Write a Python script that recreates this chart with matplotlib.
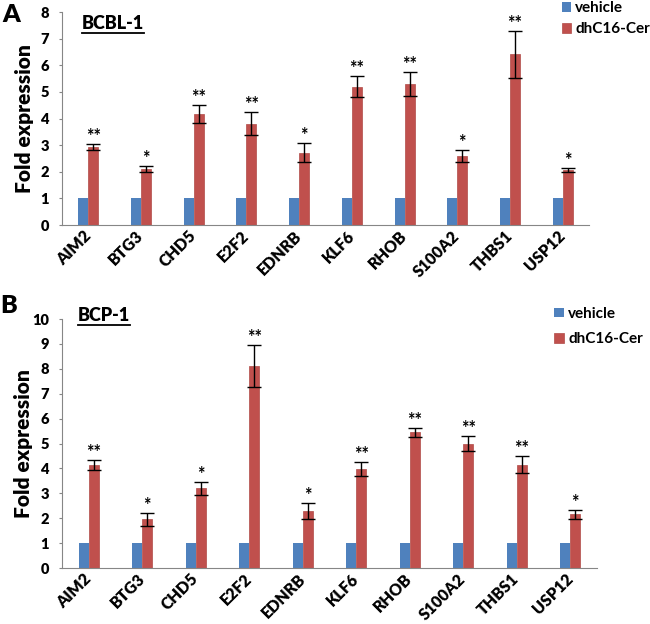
import matplotlib

matplotlib.use("Agg")
import matplotlib.pyplot as plt
import matplotlib.transforms as mtransforms
import numpy as np
from matplotlib.lines import Line2D

plt.rcParams["font.family"] = ["Lato", "DejaVu Sans"]
plt.rcParams["font.weight"] = "bold"

genes = ["AIM2", "BTG3", "CHD5", "E2F2", "EDNRB", "KLF6", "RHOB", "S100A2", "THBS1", "USP12"]

# panel A: BCBL-1
bcbl_vehicle = [1, 1, 1, 1, 1, 1, 1, 1, 1, 1]
bcbl_cer = [2.93, 2.10, 4.17, 3.80, 2.72, 5.20, 5.28, 2.60, 6.42, 2.07]
bcbl_err = [0.10, 0.12, 0.33, 0.43, 0.37, 0.38, 0.45, 0.22, 0.88, 0.08]
bcbl_sig = ["**", "*", "**", "**", "*", "**", "**", "*", "**", "*"]

# panel B: BCP-1
bcp_vehicle = [1, 1, 1, 1, 1, 1, 1, 1, 1, 1]
bcp_cer = [4.15, 1.95, 3.20, 8.12, 2.30, 3.97, 5.45, 5.00, 4.15, 2.15]
bcp_err = [0.20, 0.25, 0.27, 0.85, 0.32, 0.28, 0.18, 0.30, 0.35, 0.18]
bcp_sig = ["**", "*", "*", "**", "*", "**", "**", "**", "**", "*"]

BLUE = "#4F81BD"
RED = "#C0504D"
GREY = "#868686"
W = 0.19


def draw_panel(ax, vehicle, cer, err, sig, ymax, legend_anchor, spacing):
    x = np.arange(len(genes))
    ax.bar(x - W / 2, vehicle, W, color=BLUE, label="vehicle")
    ax.bar(x + W / 2, cer, W, color=RED, edgecolor="#B04A47", lw=0.5, label="dhC16-Cer",
           yerr=err, capsize=5, error_kw=dict(ecolor="black", elinewidth=1, capthick=1))
    for xi, v, e, s in zip(x, cer, err, sig):
        ax.annotate(s, (xi + W / 2, v + e), xytext=(0, 1.5), textcoords="offset points",
                    ha="center", va="baseline", fontsize=13, fontweight="bold")
    ax.set_xlim(-0.5, len(genes) - 0.5)
    ax.set_ylim(0, ymax)
    ax.set_yticks(range(0, ymax + 1))
    ax.set_xticks(x)
    ax.set_xticklabels(genes, rotation=45, ha="right", va="center", rotation_mode="anchor",
                       fontsize=11.5, fontweight="heavy")
    shift = mtransforms.ScaledTranslation(3 / 72, 0, ax.figure.dpi_scale_trans)
    for lbl in ax.get_xticklabels():
        lbl.set_transform(lbl.get_transform() + shift)
    ax.tick_params(axis="y", labelsize=10.5, length=2.5, width=0.8, color=GREY, pad=7)
    ax.tick_params(axis="x", length=0, pad=6)
    for lbl in ax.get_yticklabels():
        lbl.set_fontweight("heavy")
    for sp in ["top", "right"]:
        ax.spines[sp].set_visible(False)
    for sp in ["left", "bottom"]:
        ax.spines[sp].set_color(GREY)
        ax.spines[sp].set_linewidth(0.8)
    ax.text(-0.072, 0.5, "Fold expression", transform=ax.transAxes, rotation=90,
            ha="center", va="center", fontsize=15, fontweight="heavy")
    ax.legend(loc="upper left", bbox_to_anchor=legend_anchor, bbox_transform=ax.figure.transFigure,
              frameon=False, fontsize=11, borderpad=0, borderaxespad=0,
              handlelength=0.6, handleheight=0.6, handletextpad=0.3, labelspacing=spacing)
    return ax


fig = plt.figure(figsize=(6.5, 6.24), dpi=100)
axA = fig.add_axes([0.0954, 0.6394, 0.8108, 0.3413])
axB = fig.add_axes([0.0954, 0.0897, 0.8231, 0.3990])
draw_panel(axA, bcbl_vehicle, bcbl_cer, bcbl_err, bcbl_sig, 8, (0.864, 0.998), 0.45)
draw_panel(axB, bcp_vehicle, bcp_cer, bcp_err, bcp_sig, 10, (0.853, 0.508), 0.75)

# underlined cell-line titles
titles = [("BCBL-1", 0.126, 1 - 29 / 624, 1 - 32.5 / 624),
          ("BCP-1", 0.120, 1 - 321 / 624, 1 - 324.5 / 624)]
fig.canvas.draw()
for name, tx, ty, uy in titles:
    t = fig.text(tx, ty, name, fontsize=13, fontweight="heavy", va="baseline", ha="left")
    bb = t.get_window_extent(renderer=fig.canvas.get_renderer())
    fw, fh = fig.bbox.width, fig.bbox.height
    fig.add_artist(Line2D([bb.x0 / fw, bb.x1 / fw], [uy, uy], transform=fig.transFigure,
                          color="black", lw=1.3))

fig.text(0.003, 1 - 15 / 624, "A", fontsize=18, fontweight="heavy", va="center")
fig.text(0.0, 1 - 306 / 624, "B", fontsize=18, fontweight="heavy", va="center")

fig.savefig("out.png", dpi=100)
